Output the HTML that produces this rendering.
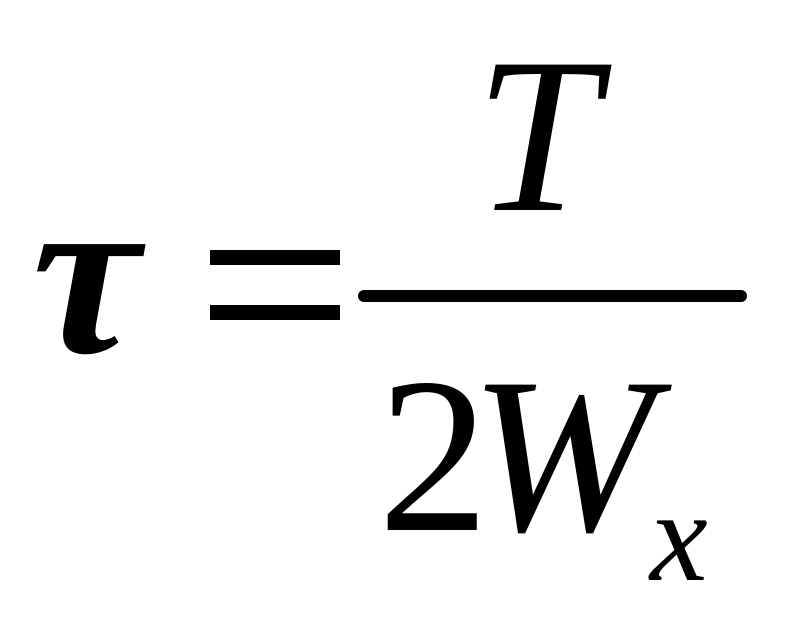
<!DOCTYPE html>
<html><head><style>html,body{margin:0;padding:0;background:#fff;}</style></head>
<body>
<svg width="796" height="629" viewBox="0 0 796 629" xmlns="http://www.w3.org/2000/svg">
<rect width="796" height="629" fill="#fff"/>
<text x="0" y="0" transform="translate(32,352) scale(1.03,1)" font-family="Liberation Serif, serif" font-style="italic" font-weight="bold" font-size="235" fill="#000">τ</text>
<rect x="210" y="250" width="130" height="15" fill="#000"/>
<rect x="210" y="305" width="130" height="15" fill="#000"/>
<rect x="358" y="290" width="389" height="12" rx="6" fill="#000"/>
<text x="475" y="210" font-family="Liberation Serif, serif" font-style="italic" font-size="222" fill="#000">T</text>
<text x="378" y="530" font-family="Liberation Serif, serif" font-size="222" fill="#000">2</text>
<text x="470" y="530" font-family="Liberation Serif, serif" font-style="italic" font-size="222" fill="#000">W</text>
<text x="650" y="580" font-family="Liberation Serif, serif" font-style="italic" font-size="130" fill="#000">x</text>
</svg>
</body></html>
